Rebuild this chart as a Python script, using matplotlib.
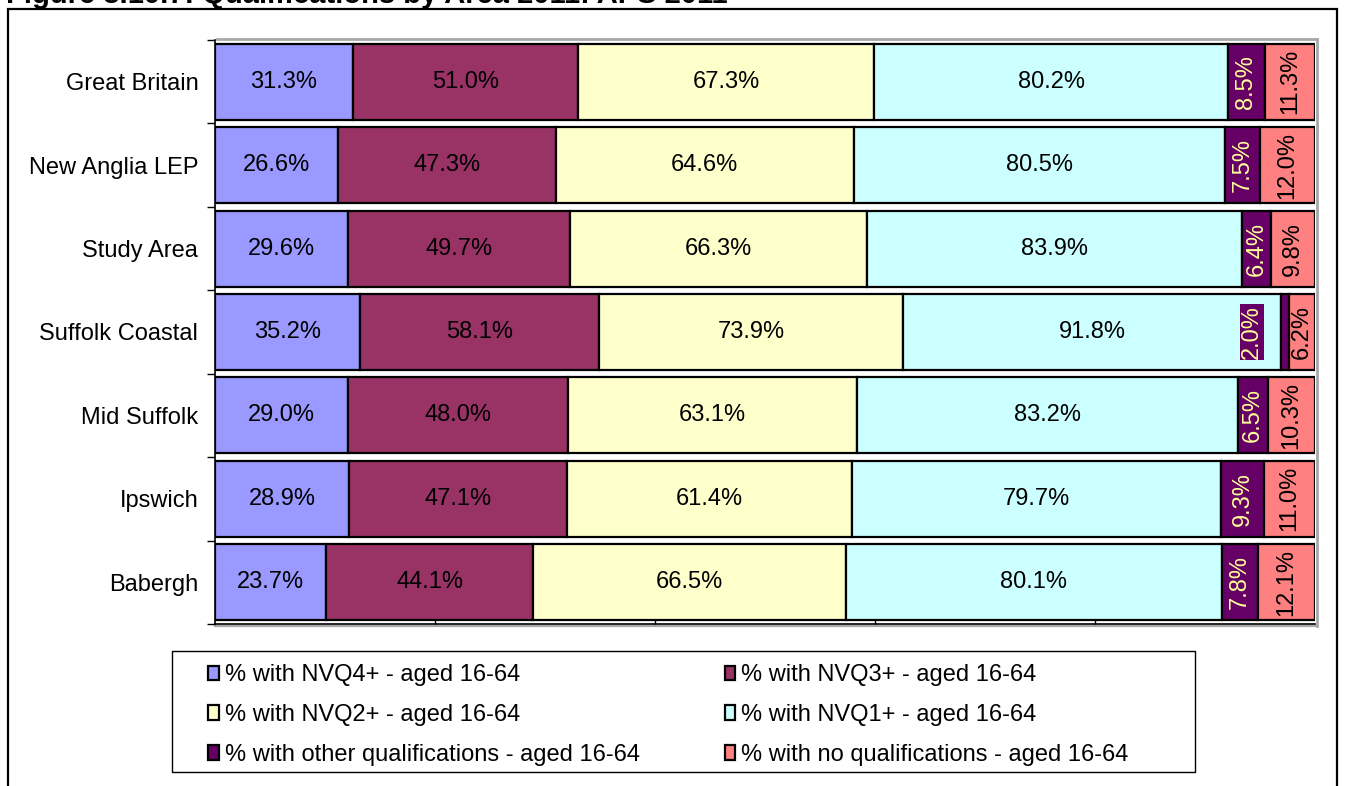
import matplotlib
matplotlib.use("Agg")
import matplotlib.pyplot as plt
from matplotlib.patches import Rectangle
from matplotlib.lines import Line2D
import numpy as np

plt.rcParams['font.family'] = ['Liberation Sans', 'DejaVu Sans']

areas = ["Great Britain", "New Anglia LEP", "Study Area", "Suffolk Coastal",
         "Mid Suffolk", "Ipswich", "Babergh"]
series_names = ["% with NVQ4+ - aged 16-64", "% with NVQ3+ - aged 16-64",
                "% with NVQ2+ - aged 16-64", "% with NVQ1+ - aged 16-64",
                "% with other qualifications - aged 16-64",
                "% with no qualifications - aged 16-64"]
nvq4 = [31.3, 26.6, 29.6, 35.2, 29.0, 28.9, 23.7]
nvq3 = [51.0, 47.3, 49.7, 58.1, 48.0, 47.1, 44.1]
nvq2 = [67.3, 64.6, 66.3, 73.9, 63.1, 61.4, 66.5]
nvq1 = [80.2, 80.5, 83.9, 91.8, 83.2, 79.7, 80.1]
other = [8.5, 7.5, 6.4, 2.0, 6.5, 9.3, 7.8]
noqual = [11.3, 12.0, 9.8, 6.2, 10.3, 11.0, 12.1]
colors = ["#9999FF", "#993366", "#FFFFCC", "#CCFFFF", "#660066", "#FF8080"]
label_colors = ["black", "black", "black", "black", "#FFFF99", "black"]
rotations = [0, 0, 0, 0, 90, 90]

FS = 17
W, H = 1346, 786
fig = plt.figure(figsize=(W / 100, H / 100), dpi=100)

ax = fig.add_axes([215 / W, 1 - 624 / H, (1315 - 215) / W, (624 - 40) / H])

data = np.array([nvq4, nvq3, nvq2, nvq1, other, noqual])
totals = data.sum(axis=0)
shares = data / totals
ypos = np.arange(len(areas))[::-1]
left = np.zeros(len(areas))
for i, name in enumerate(series_names):
    ax.barh(ypos, shares[i], left=left, height=0.91, color=colors[i],
            edgecolor="black", linewidth=1.6, label=name, zorder=3)
    for j in range(len(areas)):
        cx = left[j] + shares[i][j] / 2
        txt = f"{data[i][j]:.1f}%"
        if rotations[i] == 90 and shares[i][j] < 0.015:
            ax.annotate(txt, (cx, ypos[j]), xytext=(-24, 0), textcoords="offset points",
                        ha="center", va="center", rotation=90, fontsize=FS,
                        color=label_colors[i], zorder=5,
                        bbox=dict(boxstyle="square,pad=0.05", facecolor=colors[i],
                                  edgecolor="none"))
        else:
            ax.text(cx, ypos[j], txt, ha="center", va="center", rotation=rotations[i],
                    fontsize=FS, color=label_colors[i], zorder=5)
    left = left + shares[i]

ax.set_xlim(0, 1)
ax.set_ylim(-0.5, len(areas) - 0.5)
ax.set_yticks(ypos)
ax.set_yticklabels(areas, fontsize=FS)
ax.set_yticks(np.arange(-0.5, len(areas), 1.0), minor=True)
ax.tick_params(axis="y", which="major", length=0, pad=12)
ax.tick_params(axis="y", which="minor", length=6, width=1.0, direction="out")
ax.set_xticks([0.2, 0.4, 0.6, 0.8])
ax.set_xticklabels([])
ax.tick_params(axis="x", which="major", length=4, width=1.0, direction="in")
for s in ["top", "right"]:
    ax.spines[s].set_visible(False)
ax.spines["left"].set_linewidth(1.2)
ax.spines["bottom"].set_linewidth(1.2)

# plot-area shadow lines
ax.add_line(Line2D([0.002, 1.002], [1.002, 1.002], transform=ax.transAxes, color="#a8a8a8",
                   linewidth=2.0, clip_on=False, zorder=1))
ax.add_line(Line2D([1.002, 1.002], [-0.004, 1.002], transform=ax.transAxes, color="#a8a8a8",
                   linewidth=2.0, clip_on=False, zorder=1))
ax.add_line(Line2D([0.0, 1.002], [-0.004, -0.004], transform=ax.transAxes, color="#a8a8a8",
                   linewidth=1.6, clip_on=False, zorder=1))

# outer chart frame
fig.patches.append(Rectangle((8 / W, -0.05), (1337 - 8) / W, 1.05 - 9 / H,
                             transform=fig.transFigure, fill=False, edgecolor="black",
                             linewidth=1.6))

# partially cut title
fig.text(6 / W, 1 - 3 / H, "Figure 3.10.7: Qualifications by Area 2011: APS 2011",
         fontsize=21, fontweight="bold", ha="left", va="baseline")

# legend frame
fig.patches.append(Rectangle((172 / W, 1 - 772 / H), (1195 - 172) / W, (772 - 651) / H,
                             transform=fig.transFigure, fill=False, edgecolor="black",
                             linewidth=1.0))
handles, labels = ax.get_legend_handles_labels()
order = [0, 2, 4, 1, 3, 5]
leg = fig.legend([handles[k] for k in order], [labels[k] for k in order], ncol=2,
                 loc="upper left", bbox_to_anchor=(208 / W, 1 - 664 / H),
                 fontsize=FS, frameon=False, handlelength=0.45, handleheight=0.55,
                 handletextpad=0.25, labelspacing=0.76, borderpad=0, borderaxespad=0,
                 columnspacing=3.6)

fig.savefig("out.png", dpi=100, facecolor="white")
